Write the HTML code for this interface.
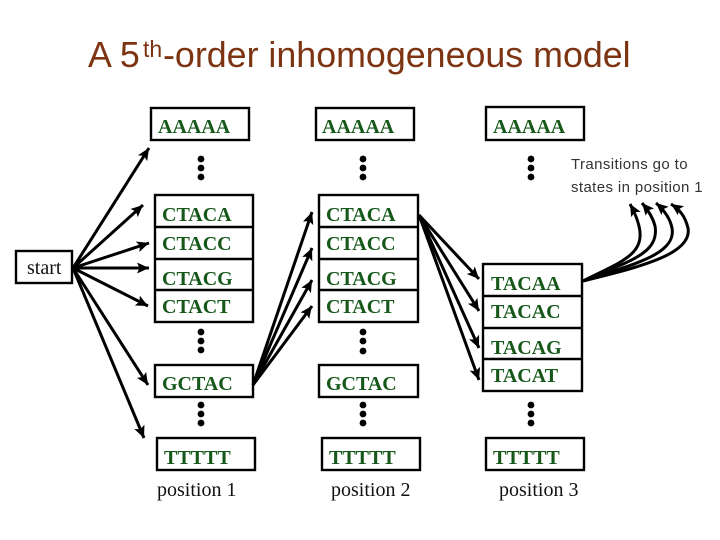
<!DOCTYPE html>
<html>
<head>
<meta charset="utf-8">
<style>
html,body{margin:0;padding:0;background:#fff;width:720px;height:540px;overflow:hidden}
svg{display:block}
.t{font-family:"Liberation Sans",sans-serif;fill:#7d3412}
.s{font-family:"Liberation Serif",serif;font-size:20px;font-weight:bold;fill:#15581a}
.p{font-family:"Liberation Serif",serif;font-size:20px;fill:#111}
.n{font-family:"Liberation Sans",sans-serif;font-size:15px;letter-spacing:.39px;fill:#333}
.b{fill:#fff;stroke:#000;stroke-width:2.4}
.d{stroke:#000;stroke-width:2.4}
.a{stroke:#000;stroke-width:3;fill:none}
</style>
</head>
<body>
<svg width="720" height="540" viewBox="0 0 720 540" xmlns="http://www.w3.org/2000/svg">
<defs>
<marker id="h" markerUnits="userSpaceOnUse" markerWidth="14" markerHeight="12" refX="12" refY="6" orient="auto">
<path d="M0 0.5 L12 6 L0 11.5 L2.5 6 Z" fill="#000"/>
</marker>
</defs>
<text class="t" x="88" y="67" font-size="35.8">A 5</text>
<text class="t" x="143" y="57" font-size="23">th</text>
<text class="t" x="163" y="67" font-size="35.8">-order inhomogeneous model</text>

<rect class="b" x="151" y="108" width="98" height="32"/>
<rect class="b" x="155" y="195" width="98" height="127"/>
<path class="d" d="M155 227H253M155 259H253M155 290H253"/>
<rect class="b" x="155" y="365" width="98" height="32"/>
<rect class="b" x="157" y="438" width="98" height="32"/>
<rect class="b" x="16" y="251" width="56" height="32"/>

<rect class="b" x="316" y="108" width="98" height="32"/>
<rect class="b" x="319" y="195" width="99" height="127"/>
<path class="d" d="M319 227H418M319 259H418M319 290H418"/>
<rect class="b" x="319" y="365" width="99" height="32"/>
<rect class="b" x="322" y="438" width="98" height="32"/>

<rect class="b" x="486" y="107" width="98" height="33"/>
<rect class="b" x="483" y="264" width="99" height="127"/>
<path class="d" d="M483 296H582M483 328H582M483 359H582"/>
<rect class="b" x="486" y="438" width="98" height="32"/>

<text class="s" x="158" y="133">AAAAA</text>
<text class="s" x="162" y="221">CTACA</text>
<text class="s" x="162" y="250">CTACC</text>
<text class="s" x="162" y="285">CTACG</text>
<text class="s" x="162" y="313">CTACT</text>
<text class="s" x="162" y="390">GCTAC</text>
<text class="s" x="164" y="464">TTTTT</text>

<text class="s" x="322" y="133">AAAAA</text>
<text class="s" x="326" y="221">CTACA</text>
<text class="s" x="326" y="250">CTACC</text>
<text class="s" x="326" y="285">CTACG</text>
<text class="s" x="326" y="313">CTACT</text>
<text class="s" x="326" y="390">GCTAC</text>
<text class="s" x="329" y="464">TTTTT</text>

<text class="s" x="493" y="133">AAAAA</text>
<text class="s" x="491" y="290">TACAA</text>
<text class="s" x="491" y="318">TACAC</text>
<text class="s" x="491" y="354">TACAG</text>
<text class="s" x="491" y="382">TACAT</text>
<text class="s" x="493" y="464">TTTTT</text>

<text class="p" x="27" y="274">start</text>
<text class="p" x="157" y="496">position 1</text>
<text class="p" x="331" y="496">position 2</text>
<text class="p" x="499" y="496">position 3</text>
<text class="n" x="571" y="169">Transitions go to</text>
<text class="n" x="571" y="192">states in position 1</text>

<g fill="#000">
<circle cx="201" cy="159" r="3.4"/><circle cx="201" cy="168" r="3.4"/><circle cx="201" cy="177" r="3.4"/>
<circle cx="201" cy="332" r="3.4"/><circle cx="201" cy="341" r="3.4"/><circle cx="201" cy="350" r="3.4"/>
<circle cx="201" cy="405" r="3.4"/><circle cx="201" cy="414" r="3.4"/><circle cx="201" cy="423" r="3.4"/>
<circle cx="363" cy="159" r="3.4"/><circle cx="363" cy="168" r="3.4"/><circle cx="363" cy="177" r="3.4"/>
<circle cx="363" cy="332" r="3.4"/><circle cx="363" cy="341" r="3.4"/><circle cx="363" cy="351" r="3.4"/>
<circle cx="363" cy="405" r="3.4"/><circle cx="363" cy="414" r="3.4"/><circle cx="363" cy="423" r="3.4"/>
<circle cx="531" cy="159" r="3.4"/><circle cx="531" cy="168" r="3.4"/><circle cx="531" cy="177" r="3.4"/>
<circle cx="531" cy="405" r="3.4"/><circle cx="531" cy="414" r="3.4"/><circle cx="531" cy="423" r="3.4"/>
</g>

<g class="a">
<line x1="73" y1="268" x2="149" y2="148" marker-end="url(#h)"/>
<line x1="73" y1="268" x2="143" y2="205" marker-end="url(#h)"/>
<line x1="73" y1="268" x2="149" y2="243" marker-end="url(#h)"/>
<line x1="73" y1="268" x2="149" y2="268" marker-end="url(#h)"/>
<line x1="73" y1="268" x2="148" y2="306" marker-end="url(#h)"/>
<line x1="73" y1="268" x2="148" y2="385" marker-end="url(#h)"/>
<line x1="73" y1="268" x2="144" y2="438" marker-end="url(#h)"/>
<line x1="253" y1="385" x2="312" y2="212" marker-end="url(#h)"/>
<line x1="253" y1="385" x2="312" y2="248" marker-end="url(#h)"/>
<line x1="253" y1="385" x2="312" y2="280" marker-end="url(#h)"/>
<line x1="253" y1="385" x2="312" y2="306" marker-end="url(#h)"/>
<line x1="419" y1="215" x2="479" y2="279" marker-end="url(#h)"/>
<line x1="419" y1="215" x2="479" y2="311" marker-end="url(#h)"/>
<line x1="419" y1="215" x2="479" y2="348" marker-end="url(#h)"/>
<line x1="419" y1="215" x2="479" y2="380" marker-end="url(#h)"/>
<path d="M583 281 C620 262 646 255 639 226 C637 218 634 211 630 204" marker-end="url(#h)"/>
<path d="M583 281 C625 262 660 255 655 226 C653 218 648 210 642 203" marker-end="url(#h)"/>
<path d="M583 281 C630 265 677 255 672 228 C670 218 664 210 656 203" marker-end="url(#h)"/>
<path d="M583 281 C635 268 693 255 688 228 C685 216 680 210 671 204" marker-end="url(#h)"/>
</g>
</svg>
</body>
</html>
